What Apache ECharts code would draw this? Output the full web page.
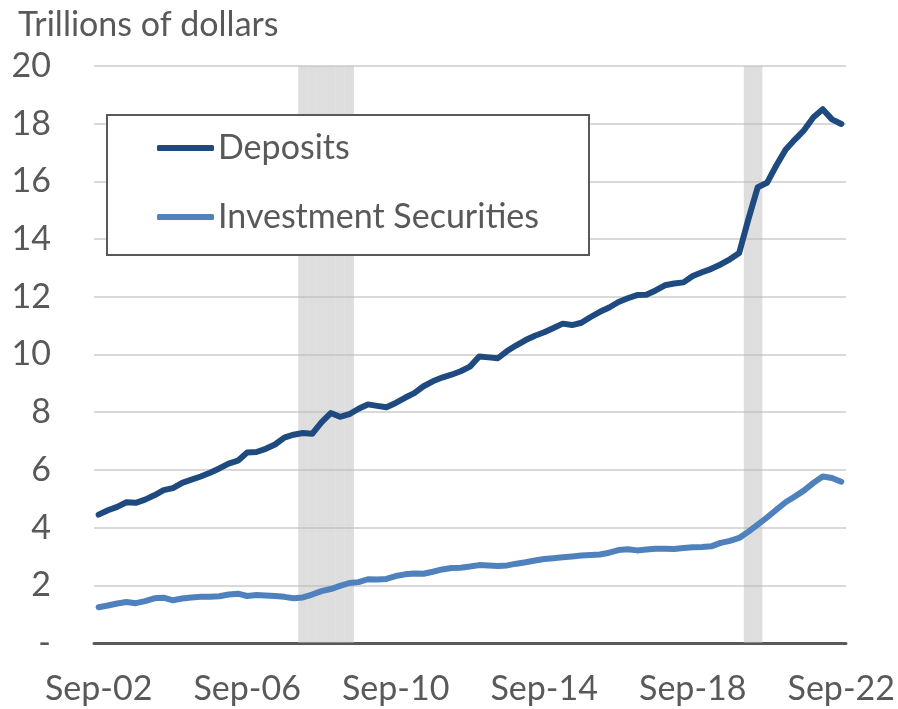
<!DOCTYPE html>
<html>
<head>
<meta charset="utf-8">
<script src="https://cdn.jsdelivr.net/npm/echarts@6/dist/echarts.min.js"></script>
<style>
  html, body { margin: 0; padding: 0; background: #fff; }
  #chart { width: 898px; height: 709px; }
</style>
</head>
<body>
<div id="chart"></div>
<script>
// quarterly, Sep-02 .. Sep-22 (81 quarters)
const months = ["Sep", "Dec", "Mar", "Jun"];
const categories = [];
for (let i = 0; i < 81; i++) {
  const yr = 2002 + Math.floor((i + 2) / 4);
  categories.push(months[i % 4] + "-" + String(yr % 100).padStart(2, "0"));
}

const deposits = [
  4.45, 4.60, 4.72, 4.88, 4.86, 4.97, 5.12, 5.30, 5.37, 5.55,
  5.66, 5.77, 5.90, 6.05, 6.22, 6.32, 6.60, 6.62, 6.73, 6.88,
  7.12, 7.22, 7.28, 7.25, 7.65, 7.97, 7.84, 7.93, 8.12, 8.27,
  8.22, 8.17, 8.32, 8.50, 8.66, 8.90, 9.07, 9.20, 9.30, 9.42,
  9.58, 9.93, 9.90, 9.87, 10.12, 10.32, 10.50, 10.65, 10.77, 10.92,
  11.07, 11.02, 11.10, 11.30, 11.48, 11.63, 11.82, 11.95, 12.06, 12.07,
  12.22, 12.40, 12.46, 12.50, 12.72, 12.85, 12.97, 13.12, 13.30, 13.52,
  14.70, 15.80, 15.95, 16.55, 17.10, 17.45, 17.78, 18.22, 18.50, 18.15,
  17.99
];

const securities = [
  1.24, 1.30, 1.37, 1.42, 1.38, 1.45, 1.55, 1.57, 1.48, 1.54,
  1.58, 1.60, 1.60, 1.62, 1.68, 1.71, 1.63, 1.66, 1.65, 1.63,
  1.60, 1.55, 1.58, 1.68, 1.80, 1.87, 1.98, 2.08, 2.11, 2.21,
  2.20, 2.22, 2.32, 2.38, 2.41, 2.40, 2.47, 2.55, 2.60, 2.61,
  2.65, 2.70, 2.69, 2.67, 2.69, 2.75, 2.80, 2.86, 2.91, 2.94,
  2.97, 3.00, 3.03, 3.05, 3.07, 3.13, 3.22, 3.25, 3.21, 3.24,
  3.27, 3.27, 3.26, 3.29, 3.32, 3.33, 3.35, 3.47, 3.54, 3.64,
  3.86, 4.10, 4.35, 4.62, 4.88, 5.08, 5.29, 5.55, 5.77, 5.72,
  5.59
];

// recession quarters (Mar-08..Jun-09, Mar-20..Jun-20)
const recessionIdx = [22, 23, 24, 25, 26, 27, 70, 71];
const recession = categories.map((_, i) => (recessionIdx.includes(i) ? 20 : null));

const yTicks = [0, 2, 4, 6, 8, 10, 12, 14, 16, 18, 20];

const FONT = "Lato";
const TXT = "#595959";
const FS = 34;

const chart = echarts.init(document.getElementById("chart"), null, { renderer: "canvas" });

chart.setOption({
  animation: false,
  backgroundColor: "#fff",
  textStyle: { fontFamily: FONT },
  title: {
    text: "Trillions of dollars",
    left: 13,
    top: 3,
    textStyle: { fontFamily: FONT, fontSize: FS, fontWeight: "normal", color: TXT },
  },
  grid: { left: 94, right: 52, top: 66, bottom: 66, containLabel: false },
  legend: {
    orient: "vertical",
    left: 157,
    top: 131,
    padding: 0,
    icon: "roundRect",
    itemWidth: 57,
    itemHeight: 6,
    itemGap: 35,
    data: ["Deposits", "Investment Securities"],
    textStyle: { fontFamily: FONT, fontSize: FS, lineHeight: 34, color: TXT, padding: [0, 0, 0, -1] },
  },
  graphic: [
    {
      type: "rect",
      left: 106,
      top: 114,
      z: 3,
      shape: { width: 482, height: 140 },
      style: { fill: "#fff", stroke: "#595959", lineWidth: 2 },
    },
  ],
  xAxis: {
    type: "category",
    data: categories,
    boundaryGap: true,
    axisLine: { lineStyle: { color: "#595959", width: 3 } },
    axisTick: { show: false },
    axisLabel: {
      interval: 15,
      margin: 29,
      fontFamily: FONT,
      fontSize: FS,
      color: TXT,
    },
    splitLine: { show: false },
  },
  yAxis: {
    type: "value",
    min: yTicks[0],
    max: yTicks[yTicks.length - 1],
    interval: 2,
    axisLine: { show: false },
    axisTick: { show: false },
    axisLabel: {
      margin: 43,
      fontFamily: FONT,
      fontSize: FS,
      color: TXT,
      formatter: (v) => (v === 0 ? "-" : String(v)),
    },
    splitLine: { lineStyle: { color: "#d9d9d9", width: 2 } },
  },
  series: [
    {
      name: "Recession",
      type: "bar",
      data: recession,
      barCategoryGap: "0%",
      barGap: "0%",
      itemStyle: { color: "rgba(185,185,185,0.48)" },
      silent: true,
      z: 1,
    },
    {
      name: "Deposits",
      type: "line",
      data: deposits,
      symbol: "none",
      lineStyle: { color: "#1f4a80", width: 6, cap: "round", join: "round" },
      itemStyle: { color: "#1f4a80" },
      z: 4,
    },
    {
      name: "Investment Securities",
      type: "line",
      data: securities,
      symbol: "none",
      lineStyle: { color: "#4f81bd", width: 6, cap: "round", join: "round" },
      itemStyle: { color: "#4f81bd" },
      z: 4,
    },
  ],
});
</script>
</body>
</html>
